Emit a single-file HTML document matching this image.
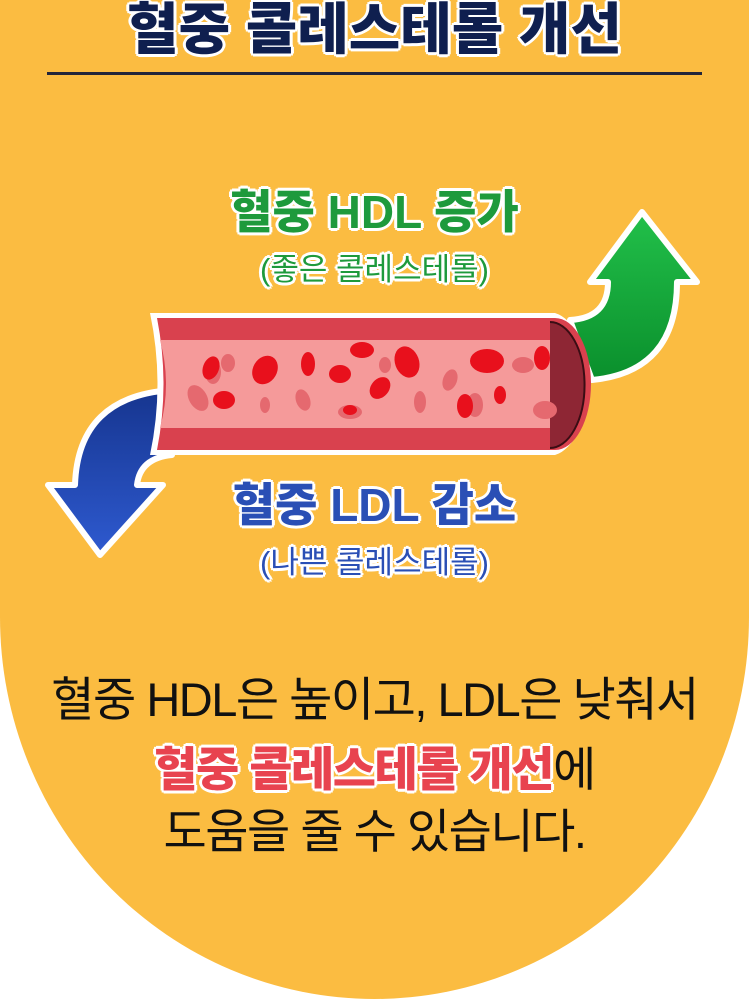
<!DOCTYPE html>
<html><head><meta charset="utf-8"><style>
html,body{margin:0;padding:0;background:#fff;}
body{width:749px;height:1000px;position:relative;overflow:hidden;font-family:"Liberation Sans","Noto Sans CJK KR",sans-serif;}
svg{position:absolute;left:0;top:0;}
.t{position:absolute;left:0;width:749px;text-align:center;white-space:nowrap;}
.w{text-shadow:2px 2px 0 #fff,-2px -2px 0 #fff,2px -2px 0 #fff,-2px 2px 0 #fff,0 3px 0 #fff,0 -3px 0 #fff,3px 0 0 #fff,-3px 0 0 #fff;}
</style></head><body>
<svg width="749" height="1000" viewBox="0 0 749 1000">
<defs>
<linearGradient id="g" x1="0" y1="0" x2="0" y2="1"><stop offset="0" stop-color="#22c04a"/><stop offset="1" stop-color="#0a8f2c"/></linearGradient>
<linearGradient id="b" x1="0" y1="0" x2="0" y2="1"><stop offset="0" stop-color="#16358f"/><stop offset="1" stop-color="#2e5ad0"/></linearGradient>
</defs>
<path d="M0,0 H749 V617 A374.5 382 0 0 1 0 617 Z" fill="#fbbc41"/>
<rect x="47" y="72" width="655" height="3" fill="#22253a"/>
<path d="M570,320 Q608,318 608,282 L590,282 L642,212 L697,282 L677,282 Q677,372 592,380 Z" fill="url(#g)" stroke="#fff" stroke-width="6" stroke-linejoin="round"/>
<path d="M172,390 Q78,396 75,485 L48,485 L100,555 L163,485 L137,485 Q140,458 172,455 Z" fill="url(#b)" stroke="#fff" stroke-width="6" stroke-linejoin="round"/>
<path d="M150,313 H555 A40 72 0 0 1 555 455 H150 Q165,384 150,313 Z" fill="#fff"/>
<path d="M157,318 H555 A36 66 0 0 1 555 450 H157 Q170,384 157,318 Z" fill="#d9414e"/>
<path d="M160,340 H550 V428 H160 Q172,384 160,340 Z" fill="#f59a9a"/>
<path d="M550,322 A34 62 0 0 1 550 448 Z" fill="#8e2634"/>
<path d="M550,322 A34 62 0 0 1 550 448" fill="none" stroke="#3a0d14" stroke-width="2"/>
<g fill="#e5696f">
<ellipse cx="198" cy="398" rx="9" ry="14" transform="rotate(-30 198 398)"/>
<ellipse cx="213" cy="372" rx="8" ry="12"/>
<ellipse cx="265" cy="405" rx="5" ry="8"/>
<ellipse cx="303" cy="400" rx="7" ry="11" transform="rotate(-20 303 400)"/>
<ellipse cx="350" cy="412" rx="12" ry="7"/>
<ellipse cx="420" cy="402" rx="6" ry="11"/>
<ellipse cx="450" cy="380" rx="7" ry="11" transform="rotate(20 450 380)"/>
<ellipse cx="475" cy="405" rx="8" ry="12"/>
<ellipse cx="523" cy="365" rx="11" ry="8"/>
<ellipse cx="545" cy="410" rx="12" ry="9"/>
<ellipse cx="228" cy="363" rx="7" ry="9"/>
<ellipse cx="385" cy="365" rx="6" ry="8"/>
</g>
<g fill="#e8101c">
<ellipse cx="211" cy="368" rx="8" ry="12" transform="rotate(20 211 368)"/>
<ellipse cx="265" cy="370" rx="12" ry="15" transform="rotate(30 265 370)"/>
<ellipse cx="308" cy="364" rx="7" ry="12"/>
<ellipse cx="340" cy="374" rx="11" ry="9"/>
<ellipse cx="362" cy="350" rx="12" ry="8"/>
<ellipse cx="380" cy="388" rx="9" ry="12" transform="rotate(40 380 388)"/>
<ellipse cx="407" cy="362" rx="12" ry="16" transform="rotate(-20 407 362)"/>
<ellipse cx="465" cy="406" rx="8" ry="12"/>
<ellipse cx="487" cy="361" rx="17" ry="12"/>
<ellipse cx="500" cy="395" rx="6" ry="9"/>
<ellipse cx="542" cy="358" rx="8" ry="12"/>
<ellipse cx="224" cy="400" rx="11" ry="9"/>
<ellipse cx="350" cy="410" rx="7" ry="5"/>
</g>
</svg>
<div class="t w" style="top:0px;font-size:56px;font-weight:900;color:#0f1f4f;line-height:60px;">혈중 콜레스테롤 개선</div>
<div class="t w" style="top:184px;font-size:46px;font-weight:900;color:#1e9a3c;line-height:56px;">혈중 HDL 증가</div>
<div class="t w" style="top:250px;font-size:31px;color:#1e9a3c;line-height:40px;">(좋은 콜레스테롤)</div>
<div class="t w" style="top:477px;font-size:46px;font-weight:900;color:#2a4fb5;line-height:56px;">혈중 LDL 감소</div>
<div class="t w" style="top:543px;font-size:31px;color:#2a4fb5;line-height:40px;">(나쁜 콜레스테롤)</div>
<div class="t" style="top:672px;font-size:47px;color:#111;line-height:56px;letter-spacing:-1.5px;">혈중 HDL은 높이고, LDL은 낮춰서</div>
<div class="t" style="top:742px;font-size:47px;color:#111;line-height:56px;letter-spacing:-1.5px;"><span class="w" style="font-weight:900;color:#e8434f;">혈중 콜레스테롤 개선</span>에</div>
<div class="t" style="top:804px;font-size:47px;color:#111;line-height:56px;letter-spacing:-1.5px;">도움을 줄 수 있습니다.</div>
</body></html>
